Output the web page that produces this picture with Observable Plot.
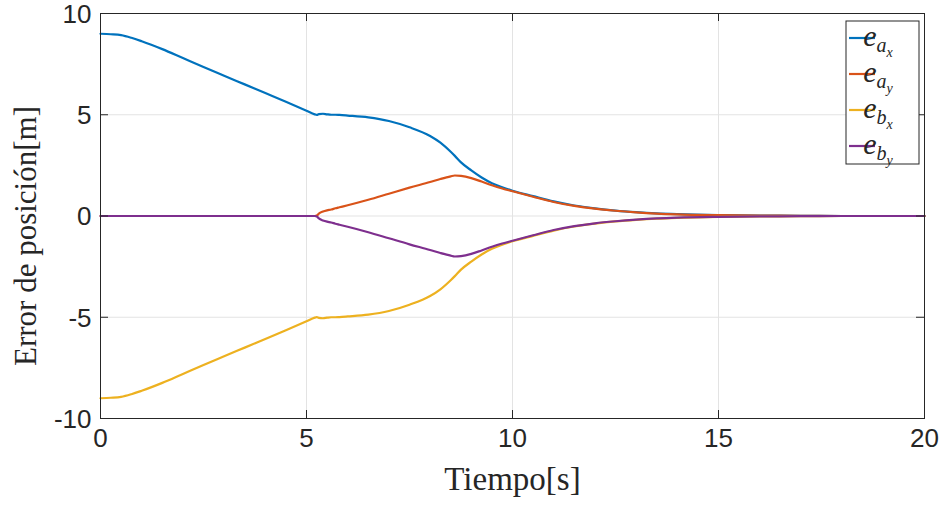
<!DOCTYPE html>
<html><head><meta charset="utf-8">
<script src="https://cdn.jsdelivr.net/npm/d3@7"></script>
<script src="https://cdn.jsdelivr.net/npm/@observablehq/plot@0.6"></script>
<style>body{margin:0;background:#fff} #chart{position:relative;width:943px;height:506px}</style>
</head><body><div id="chart"></div>
<script>
// Time [s]
const t = [0, 0.25, 0.5, 0.75, 1, 1.5, 2, 2.5, 3, 3.5, 4, 4.5, 5, 5.2, 5.25, 5.3, 5.4, 5.5, 5.6, 5.7, 5.8, 6, 6.5, 7, 7.5, 8, 8.25, 8.5, 8.6, 8.75, 9, 9.25, 9.5, 9.75, 10, 10.5, 11, 11.5, 12, 12.5, 13, 13.5, 14, 15, 16, 17, 18, 19, 20];
// e_{a_x}
const eax = [9.0, 8.975, 8.93, 8.8, 8.63, 8.24, 7.8, 7.36, 6.93, 6.5, 6.07, 5.64, 5.2, 5.02, 4.99, 5.03, 5.05, 5.02, 5.0, 5.0, 4.99, 4.96, 4.87, 4.69, 4.38, 3.95, 3.62, 3.17, 2.97, 2.65, 2.25, 1.9, 1.62, 1.42, 1.25, 0.98, 0.72, 0.52, 0.38, 0.27, 0.19, 0.13, 0.09, 0.04, 0.02, 0.01, 0, 0, 0];
// e_{a_y}
const eay = [0, 0, 0, 0, 0, 0, 0, 0, 0, 0, 0, 0, 0, 0, 0.02, 0.12, 0.22, 0.28, 0.32, 0.38, 0.43, 0.53, 0.8, 1.1, 1.4, 1.68, 1.83, 1.96, 2.0, 1.98, 1.87, 1.7, 1.52, 1.36, 1.22, 0.95, 0.69, 0.5, 0.36, 0.26, 0.18, 0.12, 0.08, 0.04, 0.02, 0.01, 0, 0, 0];
// e_{b_x}
const ebx = [-9.0, -8.975, -8.93, -8.8, -8.63, -8.24, -7.8, -7.36, -6.93, -6.5, -6.07, -5.64, -5.2, -5.02, -4.99, -5.03, -5.05, -5.02, -5.0, -5.0, -4.99, -4.96, -4.87, -4.69, -4.38, -3.95, -3.62, -3.17, -2.97, -2.65, -2.25, -1.9, -1.62, -1.42, -1.25, -0.98, -0.72, -0.52, -0.38, -0.27, -0.19, -0.13, -0.09, -0.04, -0.02, -0.01, 0, 0, 0];
// e_{b_y}
const eby = [0, 0, 0, 0, 0, 0, 0, 0, 0, 0, 0, 0, 0, 0, -0.02, -0.12, -0.22, -0.28, -0.32, -0.38, -0.43, -0.53, -0.8, -1.1, -1.4, -1.68, -1.83, -1.96, -2.0, -1.98, -1.87, -1.7, -1.52, -1.36, -1.22, -0.95, -0.69, -0.5, -0.36, -0.26, -0.18, -0.12, -0.08, -0.04, -0.02, -0.01, 0, 0, 0];

const xTicks = [0, 5, 10, 15, 20];
const yTicks = [-10, -5, 0, 5, 10];
const xGrid = [5, 10, 15];
const yGrid = [-5, 0, 5];
const legendSubs = [["a", "x"], ["a", "y"], ["b", "x"], ["b", "y"]];
const colors = ["#0072BD", "#D95319", "#EDB120", "#7E2F8E"];
const xLabel = "Tiempo[s]";
const yLabel = "Error de posición[m]";

const series = [eax, eay, ebx, eby];
const rows = vals => t.map((tt, i) => ({t: tt, v: vals[i]}));
const ink = "#262626";
const serif = "'Liberation Serif', 'Times New Roman', serif";
const W = 943, H = 506, mT = 13, mR = 19, mB = 88, mL = 100;
const innerW = W - mL - mR, innerH = H - mT - mB, tk = 8;

const chart = Plot.plot({
  width: W, height: H,
  marginTop: mT, marginRight: mR, marginBottom: mB, marginLeft: mL,
  x: {domain: [0, 20], axis: null},
  y: {domain: [-10, 10], axis: null},
  style: {fontFamily: "'Liberation Sans', Arial, sans-serif", background: "white", color: ink},
  marks: [
    Plot.ruleX(xGrid, {x: d => d, stroke: "#e3e3e3", strokeWidth: 1}),
    Plot.ruleY(yGrid, {y: d => d, stroke: "#e3e3e3", strokeWidth: 1}),
    ...series.map((s, i) => Plot.line(rows(s), {x: "t", y: "v", stroke: colors[i], strokeWidth: 2.2, curve: "monotone-x"})),
    Plot.frame({stroke: ink, strokeWidth: 1}),
    // inward ticks on all four sides
    Plot.ruleX(xTicks, {x: d => d, stroke: ink, insetTop: innerH - tk}),
    Plot.ruleX(xTicks, {x: d => d, stroke: ink, insetBottom: innerH - tk}),
    Plot.ruleY(yTicks, {y: d => d, stroke: ink, insetRight: innerW - tk}),
    Plot.ruleY(yTicks, {y: d => d, stroke: ink, insetLeft: innerW - tk}),
    // tick labels
    Plot.text(xTicks, {x: d => d, text: d => String(d), frameAnchor: "bottom", lineAnchor: "top", dy: 10, fontSize: 26, fill: ink}),
    Plot.text(yTicks, {y: d => d, text: d => String(d), frameAnchor: "left", textAnchor: "end", lineAnchor: "middle", dx: -9, dy: 1, fontSize: 26, fill: ink}),
    // axis labels
    Plot.text([xLabel], {text: d => d, frameAnchor: "bottom", textAnchor: "middle", lineAnchor: "bottom", dy: 71, fontFamily: serif, fontSize: 33, fill: ink}),
    Plot.text([yLabel], {text: d => d, frameAnchor: "left", textAnchor: "middle", lineAnchor: "middle", rotate: -90, dx: -74, dy: 20, fontFamily: serif, fontSize: 31, fill: ink})
  ]
});
document.getElementById("chart").appendChild(chart);

// Legend (inside the axes, top-right)
const svg = d3.select(chart);
const lg = svg.append("g");
lg.append("rect").attr("x", 846).attr("y", 21).attr("width", 73).attr("height", 143)
  .attr("fill", "white").attr("stroke", ink).attr("stroke-width", 1);
legendSubs.forEach((sub, i) => {
  const cy = 38 + i * 36;
  lg.append("line").attr("x1", 849).attr("x2", 875).attr("y1", cy).attr("y2", cy)
    .attr("stroke", colors[i]).attr("stroke-width", 2.2);
  const tx = lg.append("text").attr("x", 878).attr("y", cy + 8)
    .attr("font-family", serif).attr("font-style", "italic").attr("fill", ink);
  tx.append("tspan").attr("font-size", 30).text("e");
  tx.append("tspan").attr("font-size", 20).attr("dy", 6).text(sub[0]);
  tx.append("tspan").attr("font-size", 14).attr("dy", 5).text(sub[1]);
});
</script>
</body></html>
